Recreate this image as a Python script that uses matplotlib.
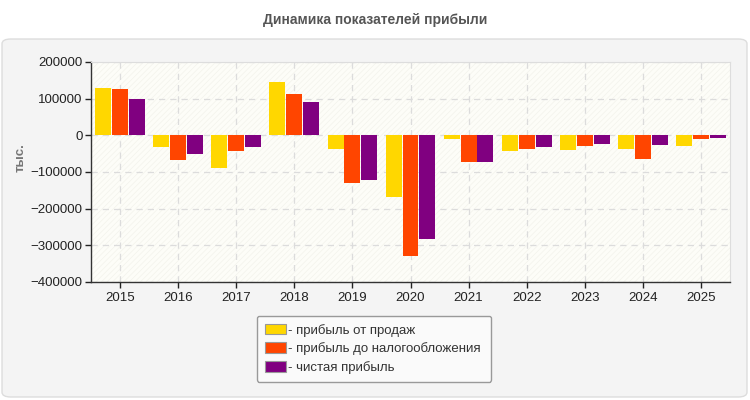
import matplotlib.pyplot as plt
from matplotlib.patches import FancyBboxPatch, Rectangle
import numpy as np

plt.rcParams['font.family'] = ['Liberation Sans', 'DejaVu Sans']
plt.rcParams['hatch.color'] = '#f3f3ec'
plt.rcParams['hatch.linewidth'] = 0.5

years = ['2015', '2016', '2017', '2018', '2019', '2020', '2021', '2022', '2023', '2024', '2025']
sales_profit = [130000, -33000, -90000, 145000, -38000, -168000, -10000, -43000, -40000, -37000, -29000]
pretax_profit = [125000, -66000, -42000, 112000, -130000, -329000, -74000, -37000, -29000, -65000, -10000]
net_profit = [100000, -52000, -33000, 90000, -123000, -283000, -74000, -32000, -24000, -26000, -7000]

series_names = ['- прибыль от продаж', '- прибыль до налогообложения', '- чистая прибыль']
colors = ['#ffd700', '#ff4500', '#800080']

W, H = 750, 400
fig = plt.figure(figsize=(7.5, 4.0), dpi=100, facecolor='white')

# grey rounded panel behind the chart
panel = FancyBboxPatch((2 / W, 3 / H), 745 / W, 358 / H,
                       boxstyle='round,pad=0,rounding_size=0.012',
                       transform=fig.transFigure, facecolor='#f4f4f4',
                       edgecolor='#dddddd', linewidth=1.0, zorder=-10)
fig.patches.append(panel)

fig.text(0.5, 1 - 20 / H, 'Динамика показателей прибыли', ha='center', va='center',
         fontsize=10, fontweight='bold', color='#555555')

ax = fig.add_axes([91 / W, 1 - 282 / H, (730 - 91) / W, (282 - 62) / H])
ax.set_facecolor('#fdfdf8')
ax.add_patch(Rectangle((0, 0), 1, 1, transform=ax.transAxes, facecolor='none',
                       edgecolor='#f3f3ec', hatch='//////', linewidth=0, zorder=0))

x = np.arange(len(years))
bw = 0.275
step = 0.29
for i, (vals, c) in enumerate(zip([sales_profit, pretax_profit, net_profit], colors)):
    ax.bar(x + (i - 1) * step, vals, width=bw, color=c, label=series_names[i], zorder=3)

ax.set_xlim(-0.5, len(years) - 0.5)
ax.set_ylim(-400000, 200000)
ax.set_yticks(np.arange(-400000, 200001, 100000))
ax.set_xticks(x)
ax.set_xticklabels(years)
ax.tick_params(axis='both', labelsize=9.5, colors='#222222', length=4, width=1)
ax.tick_params(axis='y', pad=2)
ax.grid(True, color='#dcdcdc', linestyle=(0, (5, 4)), linewidth=0.9, zorder=1)

for side in ['top', 'right']:
    ax.spines[side].set_color('#dddddd')
for side in ['left', 'bottom']:
    ax.spines[side].set_color('#333333')
    ax.spines[side].set_linewidth(1.0)

fig.text(21 / W, 1 - 158 / H, 'тыс.', rotation=90, ha='center', va='center',
         fontsize=9.5, fontweight='bold', color='#777777')

leg = ax.legend(loc='upper left', bbox_to_anchor=(250 / W, 1 - 376 / H, 248 / W, 67 / H),
                bbox_transform=fig.transFigure, mode='expand', fontsize=9.5,
                frameon=True, fancybox=True, handlelength=1.6, handleheight=0.9,
                handletextpad=0.2, borderpad=0.6, labelspacing=0.42)
leg.get_frame().set_facecolor('#fafafa')
leg.get_frame().set_edgecolor('#999999')
leg.get_frame().set_alpha(1)
for h in leg.legend_handles:
    h.set_edgecolor('#999999')
    h.set_linewidth(0.8)
for t in leg.get_texts():
    t.set_color('#333333')

fig.savefig('out.png', dpi=100, facecolor='white')
